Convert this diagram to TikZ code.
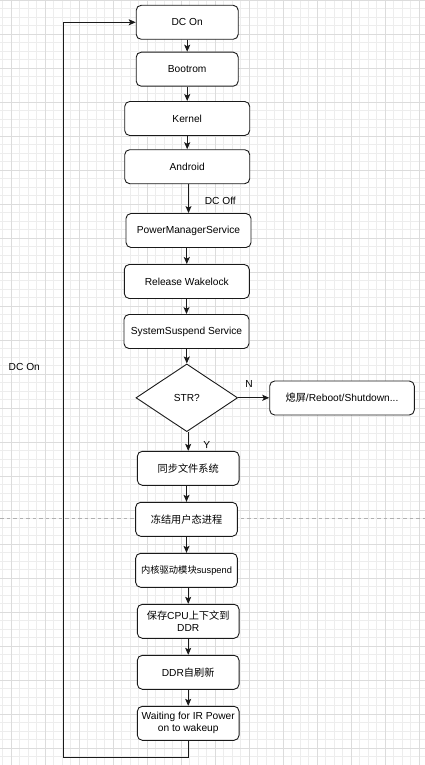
\documentclass[tikz,border=0pt]{standalone}
\usepackage{fontspec}
\setmainfont{Liberation Sans}
\newfontfamily\cjk{Noto Sans CJK SC}
\usetikzlibrary{shapes.geometric,arrows.meta}
\definecolor{gridminor}{HTML}{EDEDED}
\definecolor{gridmajor}{HTML}{DCDCDC}
\definecolor{dashgray}{HTML}{B0B0B0}
\definecolor{edgecol}{HTML}{1A1A1A}
\tikzset{
  base/.style={font=\fontsize{10.2}{12}\selectfont, text=black},
  flowbox/.style={base, draw=edgecol, line width=0.9pt, rounded corners=5pt, fill=white,
    minimum height=34pt, inner sep=0pt, align=center},
  decision/.style={base, draw=edgecol, line width=0.9pt, fill=white, diamond, inner sep=0pt,
    minimum width=101.7pt, minimum height=67.7pt, aspect=1.5},
  arr/.style={draw=edgecol, line width=0.9pt, -{Stealth[length=7pt,width=6pt,inset=1.5pt]}},
  lbl/.style={base, inner sep=0pt},
  gminor/.style={draw=gridminor, line width=0.8pt},
  gmajor/.style={draw=gridmajor, line width=0.8pt},
  sepline/.style={draw=dashgray, line width=0.8pt, dash pattern=on 3.5pt off 3pt}
}
\begin{document}
\begin{tikzpicture}[x=1pt,y=-1pt]
\useasboundingbox (0,0) rectangle (425,765);
\fill[white] (0,0) rectangle (425,765);
% grid
\foreach \i in {0,...,49} \draw[gminor] ({2.8+8.5*\i},0) -- ({2.8+8.5*\i},765);
\foreach \i in {0,...,89} \draw[gminor] (0,{0.2+8.5*\i}) -- (425,{0.2+8.5*\i});
\foreach \i in {0,...,12} \draw[gmajor] ({11.3+34*\i},0) -- ({11.3+34*\i},765);
\foreach \i in {0,...,22} \draw[gmajor] (0,{0.2+34*\i}) -- (425,{0.2+34*\i});
% dashed separator
\draw[sepline] (0,518.3) -- (425,518.3);
% nodes
\node[flowbox, minimum width=102pt] (dcon) at (187.2,22.3) {DC On};
\node[flowbox, minimum width=102pt] (boot) at (187.2,69.2) {Bootrom};
\node[flowbox, minimum width=125pt] (kern) at (187.2,118.5) {Kernel};
\node[flowbox, minimum width=125pt] (andr) at (187.2,166.7) {Android};
\node[flowbox, minimum width=125pt] (pms) at (188.5,230.5) {PowerManagerService};
\node[flowbox, minimum width=125pt] (rel) at (186.8,281.5) {Release Wakelock};
\node[flowbox, minimum width=125pt] (sss) at (186.5,331.5) {SystemSuspend Service};
\node[decision] (str) at (186.8,397.8) {STR?};
\node[flowbox, minimum width=144.6pt] (off) at (342,398) {{\cjk 熄屏}/Reboot/Shutdown...};
\node[flowbox, minimum width=101.7pt] (sync) at (188.2,468.3) {\cjk 同步文件系统};
\node[flowbox, minimum width=101.7pt] (frz) at (186.5,519.3) {\cjk 冻结用户态进程};
\node[flowbox, minimum width=101.7pt, font=\fontsize{9.3}{11}\selectfont] (drv) at (186.5,570.3) {{\cjk 内核驱动模块}suspend};
\node[flowbox, minimum width=101.7pt] (cpu) at (188.2,621.3) {{\cjk 保存}CPU{\cjk 上下文到}\\DDR};
\node[flowbox, minimum width=101.7pt] (ddr) at (188.2,672.3) {DDR{\cjk 自刷新}};
\node[flowbox, minimum width=101.7pt] (wait) at (188.2,723.3) {Waiting for IR Power\\on to wakeup};
% edges
\draw[arr] (dcon.south -| boot.north) -- (boot.north);
\draw[arr] (boot.south -| kern.north) -- (kern.north);
\draw[arr] (kern.south -| andr.north) -- (andr.north);
\draw[arr] (andr.south -| pms.north) -- (pms.north);
\draw[arr] (pms.south -| rel.north) -- (rel.north);
\draw[arr] (rel.south -| sss.north) -- (sss.north);
\draw[arr] (sss.south -| str.north) -- (str.north);
\draw[arr] (str.east) -- (off.west |- str.east);
\draw[arr] (str.south -| sync.north) -- (sync.north);
\draw[arr] (sync.south -| frz.north) -- (frz.north);
\draw[arr] (frz.south -| drv.north) -- (drv.north);
\draw[arr] (drv.south -| cpu.north) -- (cpu.north);
\draw[arr] (cpu.south -| ddr.north) -- (ddr.north);
\draw[arr] (ddr.south -| wait.north) -- (wait.north);
\coordinate (loopbl) at (63.3,757);
\draw[arr] (wait.south) |- (loopbl) |- (dcon.west);
% labels
\node[lbl] (lbldcoff) at (220.3,200.7) {DC Off};
\node[lbl] (lbln) at (249,384.3) {N};
\node[lbl] (lbly) at (206.7,445) {Y};
\node[lbl] (lbldcon) at (24.3,367.3) {DC On};
\end{tikzpicture}
\end{document}
